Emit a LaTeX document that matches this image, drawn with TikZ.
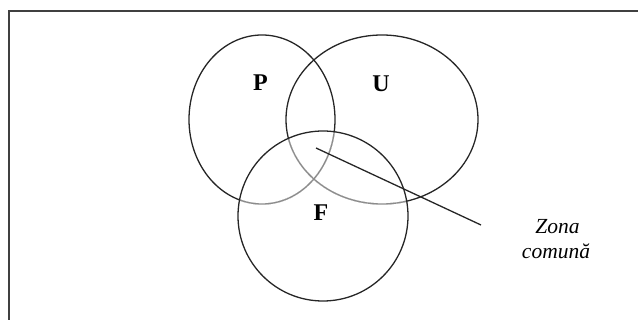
\documentclass[tikz,border=0pt]{standalone}
\usepackage{fontspec}
\setmainfont{Liberation Serif}
\begin{document}
\begin{tikzpicture}[x=1pt,y=-1pt,
  setring/.style={draw=black!85,line width=1.3pt},
  innerring/.style={draw=black!45,line width=1.3pt},
  setlabel/.style={font=\fontsize{24}{28}\selectfont\bfseries,anchor=base,inner sep=0pt},
  notelabel/.style={font=\fontsize{21.5}{25}\selectfont\itshape,anchor=base,inner sep=0pt},
  frameline/.style={draw=black!75,line width=2pt},
  pointer/.style={draw=black!85,line width=1.3pt}]
\useasboundingbox (0,0) rectangle (638,320);
% frame (only left and top edges visible)
\draw[frameline] (9,330) -- (9,11) -- (648,11);
% sets
\draw[setring] (262,119.5) ellipse [x radius=73,y radius=84.5];
\draw[setring] (382,119.5) ellipse [x radius=96,y radius=84.5];
\begin{scope}
  \clip (323,216) ellipse [x radius=85,y radius=85];
  \draw[draw=white,line width=1.8pt] (262,119.5) ellipse [x radius=73,y radius=84.5];
  \draw[draw=white,line width=1.8pt] (382,119.5) ellipse [x radius=96,y radius=84.5];
  \draw[innerring] (262,119.5) ellipse [x radius=73,y radius=84.5];
  \draw[innerring] (382,119.5) ellipse [x radius=96,y radius=84.5];
\end{scope}
\draw[setring] (323,216) ellipse [x radius=85,y radius=85];
% labels
\node[setlabel] (P) at (260.5,91) {P};
\node[setlabel] (U) at (381,92) {U};
\node[setlabel] (F) at (321,221) {F};
\node[notelabel] (zona) at (557.5,234) {Zona};
\node[notelabel] (comuna) at (556,259) {comună};
% pointer
\coordinate (common) at (316,148);
\coordinate (tip) at (481,225);
\draw[pointer] (common) -- (tip);
\end{tikzpicture}
\end{document}
